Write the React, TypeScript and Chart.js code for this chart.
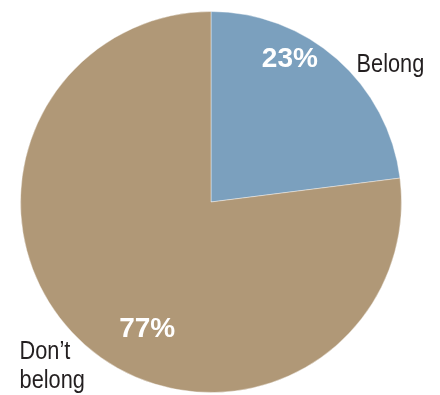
import React, { useEffect, useRef } from "react";
import { Chart, registerables } from "chart.js";

Chart.register(...registerables);

const categories = ["Belong", "Don't belong"];
const values = [23, 77];
const valueLabels = ["23%", "77%"];
const nameLines = [["Belong"], ["Don\u2019t", "belong"]];
const sliceColors = ["#7ba0be", "#b09877"];

const labelPlugin = {
  id: "pieLabels",
  afterDraw(chart: any) {
    const meta = chart.getDatasetMeta(0);
    const arc = meta.data[0];
    if (!arc) return;
    const { x: cx, y: cy, outerRadius: r } = arc.getProps(["x", "y", "outerRadius"], true);
    const ctx = chart.ctx;
    ctx.save();
    // percentage labels
    const pctPos = [
      [0.414, -0.754],
      [-0.335, 0.665],
    ];
    ctx.fillStyle = "#ffffff";
    ctx.textAlign = "center";
    ctx.textBaseline = "middle";
    ctx.font = "bold 28px 'Liberation Sans', Arial, sans-serif";
    valueLabels.forEach((t, i) => {
      ctx.fillText(t, cx + pctPos[i][0] * r, cy + pctPos[i][1] * r + 1);
    });
    // category labels (condensed by horizontal scaling)
    const namePos = [
      [0.764, -0.681],
      [-1.005, 0.822],
    ];
    const squeeze = 0.87;
    ctx.fillStyle = "#231f20";
    ctx.textAlign = "left";
    ctx.textBaseline = "alphabetic";
    ctx.font = "25px 'Liberation Sans', Arial, sans-serif";
    nameLines.forEach((lines, i) => {
      lines.forEach((ln, j) => {
        const tx = cx + namePos[i][0] * r;
        const ty = cy + namePos[i][1] * r + j * 29;
        ctx.save();
        ctx.translate(tx, ty);
        ctx.scale(squeeze, 1);
        ctx.fillText(ln, 0, 0);
        ctx.restore();
      });
    });
    ctx.restore();
  },
};

export default function App() {
  const ref = useRef<HTMLCanvasElement>(null);
  useEffect(() => {
    if (!ref.current) return;
    const chart = new Chart(ref.current, {
      type: "pie",
      data: {
        labels: categories,
        datasets: [
          {
            data: values,
            backgroundColor: sliceColors,
            borderColor: "rgba(255,255,255,0.4)",
            borderWidth: 1,
          },
        ],
      },
      options: {
        responsive: false,
        animation: false,
        layout: { padding: { left: 20, right: 38, top: 11, bottom: 2 } },
        plugins: {
          legend: { display: false },
          tooltip: { enabled: false },
        },
      },
      plugins: [labelPlugin],
    });
    return () => chart.destroy();
  }, []);
  return (
    <div style={{ position: "absolute", left: 0, top: 0, width: 440, height: 395, background: "#fff" }}>
      <canvas ref={ref} width={440} height={395} />
    </div>
  );
}
